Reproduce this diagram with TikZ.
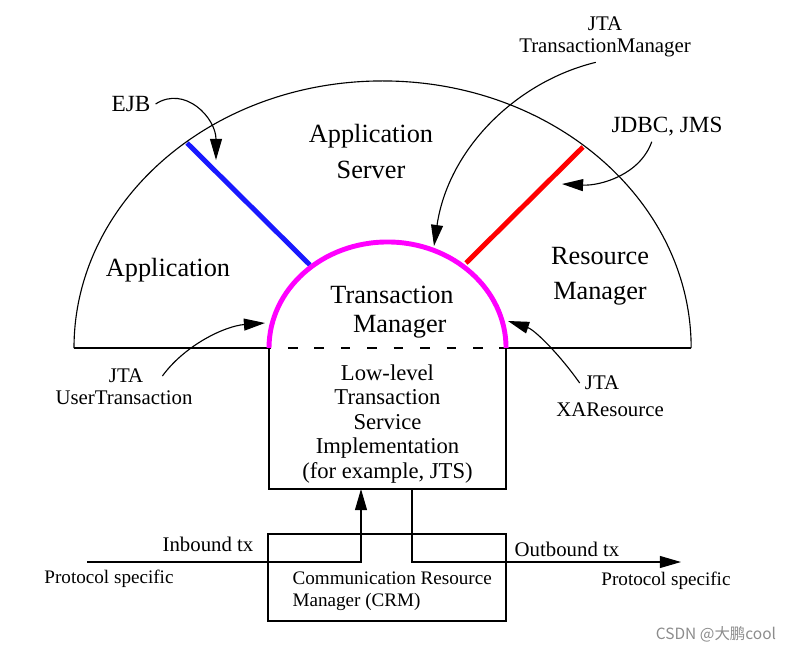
\documentclass[tikz,border=0pt]{standalone}
\usepackage{fontspec}
\setmainfont{Liberation Serif}
\newfontfamily\cjkfont{Noto Sans CJK SC}
\usetikzlibrary{arrows.meta}
\definecolor{ejbblue}{rgb}{0.1,0.1,1}
\definecolor{resred}{rgb}{1,0,0}
\definecolor{tmpink}{rgb}{1,0,1}
\tikzset{
  pointer/.style={-{Triangle[length=15pt,width=8.5pt]}, line width=0.8pt},
  bigtext/.style={font=\fontsize{18.7}{24.9}\selectfont, align=center},
  boxtext/.style={font=\fontsize{16.1}{17.4}\selectfont, align=center},
  tagtext/.style={font=\fontsize{16.5}{18}\selectfont},
  labtext/.style={font=\fontsize{14.8}{15.6}\selectfont, align=center},
  smalltext/.style={font=\fontsize{13.6}{15.6}\selectfont, align=left}
}
\begin{document}
\begin{tikzpicture}[x=0.025cm, y=0.025cm, line width=0.8pt]
				\useasboundingbox (0,0) rectangle (791,-652);
				\coordinate (L) at (74,-348);
				\coordinate (R) at (691,-348);
				\coordinate (tmL) at (269,-348);
				\coordinate (tmR) at (506,-348);
				\coordinate (llBL) at (269,-489);
				\coordinate (llBR) at (506,-489);
				\coordinate (ejbA) at (187,-143);
				\coordinate (ejbB) at (310,-265);
				\coordinate (resA) at (583,-147);
				\coordinate (resB) at (466,-263);
				\coordinate (ejbtip) at (216,-160);
				\coordinate (tmtip) at (434,-246);
				\coordinate (jdbctip) at (562,-184);
				\coordinate (uttip) at (265,-323);
				\coordinate (xatip) at (508,-321);
				\coordinate (inStart) at (87,-562);
				\coordinate (inA) at (361,-562);
				\coordinate (llin) at (361,-489);
				\coordinate (llout) at (412,-489);
				\coordinate (outA) at (412,-562);
				\coordinate (outEnd) at (681,-562);
				% outer half circle and base line
				\draw (L) arc[start angle=180, end angle=0, x radius=7.7125cm, y radius=6.675cm];
				\draw (L) -- (tmL);
				\draw (tmR) -- (R);
				\draw[dash pattern=on 6.8pt off 12pt, dash phase=5.3pt] (tmL) -- (tmR);
				\draw[line width=3.5pt, ejbblue] (ejbA) -- (ejbB);
				\draw[line width=3.5pt, resred] (resA) -- (resB);
				\draw[line width=3.5pt, tmpink] (tmL) arc[start angle=180, end angle=0, x radius=2.9625cm, y radius=2.65cm];
				% low-level box
				\draw (tmL) -- (llBL) -- (llBR) -- (tmR);
				\node[boxtext] (llbox) at (387.5,-424) {Low-level\\Transaction\\Service\\Implementation\\(for example, JTS)};
				% CRM box
				\node[draw, minimum width=5.95cm, minimum height=2.175cm, inner sep=0pt] (crm) at (387,-577.5) {};
				\node[smalltext, anchor=west, inner sep=0pt] (crmtext) at (292,-591) {Communication Resource\\Manager (CRM)};
				% regions
				\node[bigtext] (appserver) at (371,-151.5) {Application\\Server};
				\node[bigtext] (app) at (168,-270) {Application};
				\node[bigtext] (resmgr) at (600,-276) {Resource\\Manager};
				\node[bigtext, font=\fontsize{18.7}{20.6}\selectfont] (txmgr) at (392,-312.5) {Transaction\\\hspace*{11pt}Manager};
				% interface labels
				\node[tagtext] (ejb) at (131,-104) {EJB};
				\node[tagtext] (jdbc) at (667,-127) {JDBC, JMS};
				\node[labtext] (jtatm) at (605,-37) {JTA\\TransactionManager};
				\node[labtext] (utjta) at (126,-376) {JTA};
				\node[labtext] (uttx) at (124,-398) {UserTransaction};
				\node[labtext] (xajta) at (602,-383) {JTA};
				\node[labtext] (xares) at (610,-410) {XAResource};
				\draw[pointer] (ejb.east) .. controls (185,-85) and (216,-118) .. (ejbtip);
				\draw[pointer] (jtatm.250) .. controls (515,-82) and (448,-150) .. (tmtip);
				\draw[pointer] (jdbc.224) .. controls (640,-175) and (600,-186) .. (jdbctip);
				\draw[pointer] ([xshift=10pt]utjta.east) .. controls (185,-345) and (225,-326) .. (uttip);
				\draw[pointer] (xajta.west) .. controls (560,-355) and (535,-330) .. (xatip);
				% inbound and outbound
				\draw[pointer] (inStart) -- (inA) -- (llin);
				\draw[pointer] (llout) -- (outA) -- (outEnd);
				\node[labtext] (inbound) at (208,-544) {Inbound tx};
				\node[labtext] (outbound) at (567,-549) {Outbound tx};
				\node[smalltext] (protoL) at (109,-579) {Protocol specific};
				\node[smalltext] (protoR) at (666,-581) {Protocol specific};
				\node[font=\cjkfont\fontsize{11}{13}\selectfont, text=black!45] (mark) at (716,-634) {CSDN @大鹏cool};
			\end{tikzpicture}
\end{document}
